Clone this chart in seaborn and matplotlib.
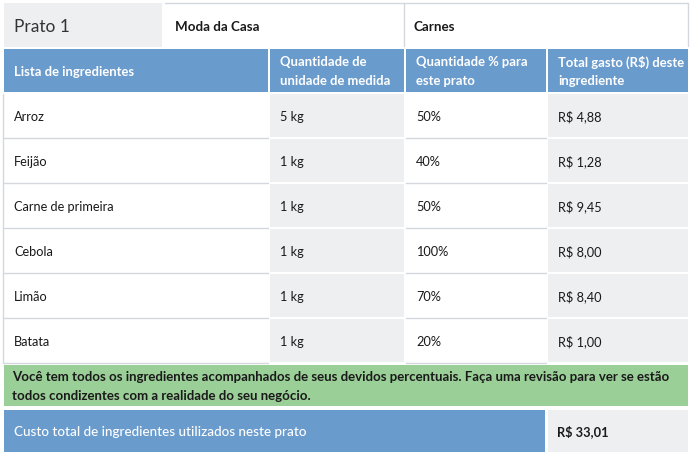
import matplotlib
matplotlib.use("Agg")
import matplotlib.pyplot as plt
from matplotlib.patches import Rectangle
import seaborn as sns

# Table content
dish_title = "Prato 1"
dish_name = "Moda da Casa"
dish_category = "Carnes"
headers = ["Lista de ingredientes", "Quantidade de\nunidade de medida",
           "Quantidade % para\neste prato", "Total gasto (R$) deste\ningrediente"]
ingredients = ["Arroz", "Feijão", "Carne de primeira", "Cebola", "Limão", "Batata"]
quantities = ["5 kg", "1 kg", "1 kg", "1 kg", "1 kg", "1 kg"]
percents = [50, 40, 50, 100, 70, 20]
costs = [4.88, 1.28, 9.45, 8.00, 8.40, 1.00]
note = ("Você tem todos os ingredientes acompanhados de seus devidos percentuais. "
        "Faça uma revisão para ver se estão\ntodos condizentes com a realidade do seu negócio.")
total_label = "Custo total de ingredientes utilizados neste prato"


def brl(v):
    return "R$ " + f"{v:.2f}".replace(".", ",")


sns.set_theme(style="white")
plt.rcParams["font.family"] = ["Lato", "DejaVu Sans"]

BLUE = "#6a9bcd"
GRAY = "#edeff1"
GREEN = "#9bcf98"
LINE = "#d4d8dc"
TXT = "#1a1a1a"

fig = plt.figure(figsize=(7, 4.6), dpi=100)
ax = fig.add_axes([0, 0, 1, 1])
ax.set_xlim(0, 700)
ax.set_ylim(460, 0)
ax.axis("off")

# column layout (left edge, width)
cols = [(4, 264), (270, 134), (406, 140), (548, 140)]
pad = 10

# top row
ax.add_patch(Rectangle((4, 4), 158, 44, color=GRAY, lw=0))
ax.plot([165, 688], [4, 4], color=LINE, lw=1)
ax.plot([688, 688], [4, 47], color=LINE, lw=1)
ax.plot([404, 404], [4, 47], color=LINE, lw=1)
ax.text(14, 27, dish_title, fontsize=12.5, color="#333333", va="center")
ax.text(175, 27, dish_name, fontsize=9.6, fontweight="bold", color=TXT, va="center")
ax.text(414, 27, dish_category, fontsize=9.6, fontweight="bold", color=TXT, va="center")

# header row
for (x, w), h in zip(cols, headers):
    ax.add_patch(Rectangle((x, 50), w, 43, color=BLUE, lw=0))
    ax.text(x + pad, 71.5, h, fontsize=9.4, fontweight="bold", color="white",
            va="center", linespacing=1.65)

# data rows
row_h = 45
ax.plot([3, 3], [95, 364], color=LINE, lw=1)
for i, (ing, q, p, c) in enumerate(zip(ingredients, quantities, percents, costs)):
    y = 95 + i * row_h
    vals = [ing, q, f"{p}%", brl(c)]
    for j, ((x, w), v) in enumerate(zip(cols, vals)):
        if j % 2 == 1:
            ax.add_patch(Rectangle((x, y), w, row_h - 2, color=GRAY, lw=0))
        else:
            ax.plot([x, x + w], [y + row_h - 1, y + row_h - 1], color=LINE, lw=1)
        ax.text(x + pad, y + 22, v, fontsize=9.2, color=TXT, va="center")

# note row
ax.add_patch(Rectangle((4, 366), 684, 41, color=GREEN, lw=0))
ax.text(12, 386.5, note, fontsize=9.5, fontweight="bold", color=TXT,
        va="center", linespacing=1.65)

# total row
total = sum(costs)
ax.add_patch(Rectangle((4, 411), 541, 42, color=BLUE, lw=0))
ax.add_patch(Rectangle((548, 411), 140, 42, color=GRAY, lw=0))
ax.text(14, 432, total_label, fontsize=9.7, fontweight="medium", color="white", va="center")
ax.text(557, 432, brl(total), fontsize=9.2, fontweight="bold", color=TXT, va="center")

fig.savefig("out.png", dpi=100, facecolor="white")
